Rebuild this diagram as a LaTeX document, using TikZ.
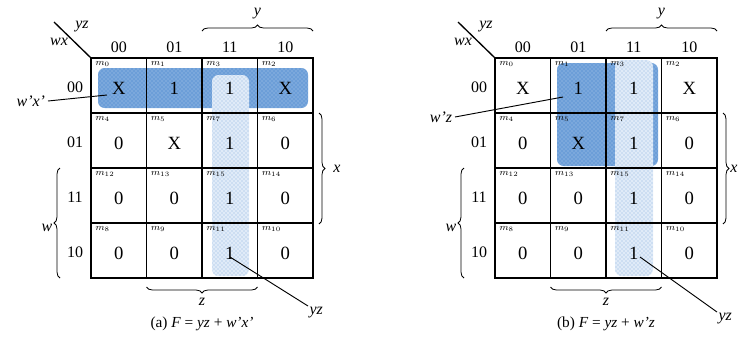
\documentclass[tikz,border=0pt]{standalone}
\usepackage{fontspec}
\setmainfont{Liberation Serif}
\usepackage{tikz}
\usetikzlibrary{decorations.pathreplacing,patterns}

\definecolor{kblue}{RGB}{108,158,216}
\definecolor{kpale}{RGB}{224,235,248}

\tikzset{
  entry/.style={font=\fontsize{14}{16}\selectfont, inner sep=1pt},
  mlabel/.style={anchor=north west, inner sep=0pt, font=\fontsize{7}{8}\selectfont},
  header/.style={font=\fontsize{12}{14}\selectfont},
  varname/.style={font=\fontsize{12}{14}\selectfont\itshape},
  kbrace/.style={decorate, decoration={brace, amplitude=4.5pt}, line width=0.6pt},
  bigbox/.style={rounded corners=5pt, fill=kblue,
    postaction={pattern=crosshatch dots, pattern color=white!45!kblue}},
  palebox/.style={rounded corners=5pt, fill=kpale,
    postaction={pattern=crosshatch dots, pattern color=kblue!75}},
  caption/.style={font=\fontsize{11.5}{13}\selectfont},
  pointer/.style={line width=0.7pt}
}

% row/column/minterm/value
\newcommand{\kcells}{0/0/0/X, 0/1/1/1, 0/2/3/1, 0/3/2/X,
  1/0/4/0, 1/1/5/X, 1/2/7/1, 1/3/6/0,
  2/0/12/0, 2/1/13/0, 2/2/15/1, 2/3/14/0,
  3/0/8/0, 3/1/9/0, 3/2/11/1, 3/3/10/0}

% #1 name prefix, #2 distance of the x label
\newcommand{\kmapbody}[2]{%
  % entries and minterm numbers
  \foreach \row/\col/\mt/\val in \kcells {
    \node[mlabel] (#1m\mt) at (\col*55.5+4, \row*55+3) {$m_{\mt}$};
    \node[entry] (#1\mt) at (\col*55.5+27.75, \row*55+30) {\val};
  }
  % grid
  \foreach \i in {1,2,3} {
    \draw[line width=1pt] (\i*55.5,0) -- (\i*55.5,220);
    \draw[line width=1pt] (0,\i*55) -- (222,\i*55);
  }
  \draw[line width=1.6pt] (0,0) rectangle (222,220);
  % headings
  \foreach \col/\lab in {0/00,1/01,2/11,3/10}
    \node[header] (#1c\lab) at (\col*55.5+27.75,-11) {\lab};
  \foreach \row/\lab in {0/00,1/01,2/11,3/10}
    \node[header] (#1r\lab) at (-16,\row*55+29) {\lab};
  \draw[line width=1pt] (0,0) -- (-37,-36);
  \node[varname] (#1yzhead) at (-9,-31) {yz};
  \node[varname] (#1wxhead) at (-32,-16) {wx};
  % variable braces
  \draw[kbrace] (111,-27) -- (222,-27);
  \node[varname] (#1y) at (166.5,-44) {y};
  \draw[kbrace] (228,55) -- (228,166);
  \node[varname] (#1x) at (#2,111) {x};
  \draw[kbrace] (-31,220) -- (-31,110);
  \node[varname] (#1w) at (-44,170) {w};
  \draw[kbrace] (166.5,229) -- (55.5,229);
  \node[varname] (#1z) at (111,244) {z};
}

\begin{document}
\begin{tikzpicture}[x=0.75pt, y=-0.75pt]
  \useasboundingbox (0,0) rectangle (743,351);

  % (a) F = yz + w'x'
  \begin{scope}[shift={(91,58)}]
    \path[bigbox] (7,10) rectangle (217,50);
    \path[palebox] (121,17) rectangle (158,218);
    \kmapbody{a}{246}
    \node[varname, anchor=east, inner sep=2pt] (awx) at (-43,43) {w'x'};
    \coordinate (awxend) at (16,37);
    \draw[pointer] (awx.east) -- (awxend);
    \node[varname, anchor=north west, inner sep=1pt] (ayz) at (217,248) {yz};
    \coordinate (ayzend) at (139,199);
    \draw[pointer] (ayzend) -- (ayz.north west);
    \node[caption] (acap) at (111,266) {(a) \textit{F} = \textit{yz} + \textit{w'x'}};
  \end{scope}

  % (b) F = yz + w'z
  \begin{scope}[shift={(495,58)}]
    \path[bigbox] (62,5) rectangle (163,108);
    \path[palebox] (120,2) rectangle (158,218);
    \kmapbody{b}{239}
    \node[varname, anchor=east, inner sep=2pt] (bwz) at (-40,59) {w'z};
    \coordinate (bwzend) at (68,39);
    \draw[pointer] (bwz.east) -- (bwzend);
    \node[varname, anchor=north west, inner sep=1pt] (byz) at (222,254) {yz};
    \coordinate (byzend) at (145,199);
    \draw[pointer] (byzend) -- (byz.north west);
    \node[caption] (bcap) at (111,266) {(b) \textit{F} = \textit{yz} + \textit{w'z}};
  \end{scope}
\end{tikzpicture}
\end{document}
